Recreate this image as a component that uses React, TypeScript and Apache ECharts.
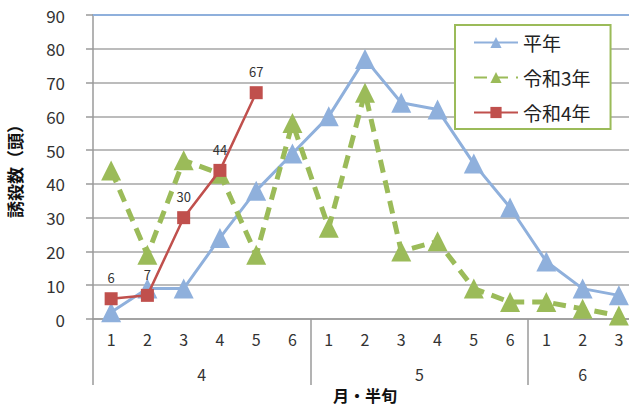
import React, { useEffect, useRef } from "react";
import * as echarts from "echarts";

const categories = ["1", "2", "3", "4", "5", "6", "1", "2", "3", "4", "5", "6", "1", "2", "3"];
const months = ["4", "5", "6"];
const monthSpans = [6, 6, 3];
const heinen = [2, 9, 9, 24, 38, 49, 60, 77, 64, 62, 46, 33, 17, 9, 7];
const reiwa3 = [44, 19, 47, 43, 19, 58, 27, 67, 20, 23, 9, 5, 5, 3, 1];
const reiwa4 = [6, 7, 30, 44, 67];
const seriesNames = ["平年", "令和3年", "令和4年"];
const yTitle = "誘殺数（頭）";
const xTitle = "月・半旬";

const FONT = "'Noto Sans CJK JP', 'Noto Sans', sans-serif";

export default function App() {
  const ref = useRef<HTMLDivElement>(null);
  useEffect(() => {
    if (!ref.current) return;
    const chart = echarts.init(ref.current, undefined, { renderer: "svg" });
    const boundaries: number[] = [0];
    monthSpans.forEach((s) => boundaries.push(boundaries[boundaries.length - 1] + s));
    const centers = monthSpans.map((s, i) => boundaries[i] + s / 2);
    const total = boundaries[boundaries.length - 1];

    chart.setOption({
      animation: false,
      textStyle: { fontFamily: FONT },
      grid: { left: 93, top: 15, width: 544, height: 304, containLabel: false, outerBoundsMode: "none" },
      legend: {
        orient: "vertical",
        left: 455,
        top: 25,
        padding: [8, 20, 7, 18],
        itemWidth: 44,
        itemHeight: 14,
        itemGap: 16,
        borderColor: "#9bbb59",
        borderWidth: 2,
        backgroundColor: "#ffffff",
        textStyle: { fontSize: 19, color: "#222", fontFamily: FONT, width: 85 },
        data: seriesNames,
      },
      xAxis: [
        {
          type: "category",
          data: categories,
          boundaryGap: true,
          position: "bottom",
          axisLine: { lineStyle: { color: "#9a9a9a", width: 1.5 } },
          axisTick: { interval: 0, length: 33, lineStyle: { color: "#9a9a9a", width: 1.5 } },
          axisLabel: { interval: 0, fontSize: 16, color: "#333", margin: 12, fontFamily: FONT },
        },
        {
          type: "value",
          min: 0,
          max: total,
          position: "bottom",
          axisLine: { show: false },
          splitLine: { show: false },
          axisTick: {
            show: true,
            customValues: boundaries,
            length: 66,
            lineStyle: { color: "#9a9a9a", width: 1.5 },
          },
          axisLabel: {
            customValues: centers,
            fontSize: 16,
            color: "#333",
            margin: 47,
            fontFamily: FONT,
            formatter: (v: number) => {
              const i = centers.findIndex((c) => Math.abs(c - v) < 1e-6);
              return i >= 0 ? months[i] : "";
            },
          },
          name: xTitle,
          nameLocation: "middle",
          nameGap: 67,
          nameTextStyle: { fontSize: 16, fontWeight: "bold", color: "#111", fontFamily: FONT },
        },
        {
          type: "category",
          data: categories,
          position: "top",
          axisLine: { show: true, lineStyle: { color: "#8fb0dc", width: 2 } },
          axisTick: { show: false },
          axisLabel: { show: false },
        },
      ],
      yAxis: {
        type: "value",
        min: 0,
        max: 90,
        interval: 10,
        axisLine: { show: true, lineStyle: { color: "#9a9a9a", width: 1.5 } },
        axisTick: { show: true, length: 7, lineStyle: { color: "#9a9a9a", width: 1.5 } },
        splitLine: { lineStyle: { color: "#a6a6a6", width: 1.5 } },
        axisLabel: { fontSize: 17, color: "#333", margin: 28, fontFamily: FONT },
        name: yTitle,
        nameLocation: "middle",
        nameRotate: 90,
        nameGap: 70,
        nameTextStyle: { fontSize: 17, fontWeight: "bold", color: "#111", fontFamily: FONT },
      },
      series: [
        {
          name: seriesNames[0],
          type: "line",
          xAxisIndex: 0,
          data: heinen,
          symbol: "triangle",
          symbolSize: 20,
          itemStyle: { color: "#8fb0dc" },
          lineStyle: { color: "#8fb0dc", width: 3 },
          z: 2,
        },
        {
          name: seriesNames[1],
          type: "line",
          xAxisIndex: 0,
          data: reiwa3,
          symbol: "triangle",
          symbolSize: 20,
          itemStyle: { color: "#9bbb59" },
          lineStyle: { color: "#9bbb59", width: 5, type: [13, 8] },
          z: 3,
        },
        {
          name: seriesNames[2],
          type: "line",
          xAxisIndex: 0,
          data: reiwa4,
          symbol: "rect",
          symbolSize: 13,
          itemStyle: { color: "#c0504d" },
          lineStyle: { color: "#c0504d", width: 2.5 },
          label: { show: true, position: "top", distance: 8, fontSize: 13, color: "#333", fontFamily: FONT },
          z: 4,
        },
      ],
    });
    return () => chart.dispose();
  }, []);
  return (
    <div
      ref={ref}
      style={{ position: "absolute", left: 0, top: 0, width: 629, height: 409, background: "#fff" }}
    />
  );
}
